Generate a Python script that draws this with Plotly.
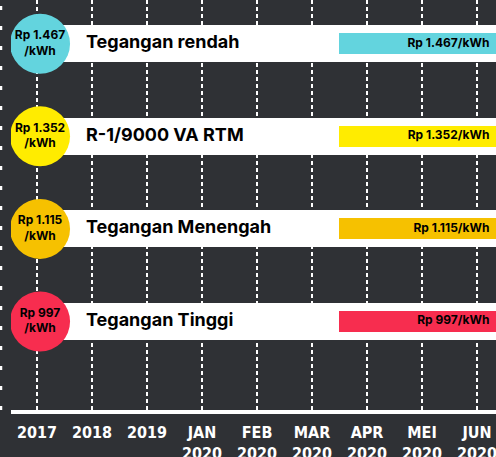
import plotly.graph_objs as go

# timeline ticks
periods = ['2017', '2018', '2019', 'JAN<br>2020', 'FEB<br>2020', 'MAR<br>2020',
           'APR<br>2020', 'MEI<br>2020', 'JUN<br>2020']

# tariffs
tariff_names = ['Tegangan rendah', 'R-1/9000 VA RTM', 'Tegangan Menengah', 'Tegangan Tinggi']
tariff_values = ['1.467', '1.352', '1.115', '997']
tariff_colors = ['#63d4de', '#ffec00', '#f6c100', '#f72d4f']

bg_color = '#2f3135'
dot_color = '#f42d4f'

# axis ranges, one x unit ~ 55px, one band ~ 93px
x_range = [-0.473, 8.345]
y_range = [3.957, -0.473]
box_start = 5.49

fig = go.Figure()

# white bands
fig.add_trace(go.Bar(y=tariff_names, x=[x_range[1]] * len(tariff_names), base=0,
                     orientation='h', width=0.4, marker=dict(color='white', line=dict(width=0)),
                     hoverinfo='skip'))

# coloured value boxes
fig.add_trace(go.Bar(y=tariff_names, x=[x_range[1] - box_start] * len(tariff_names), base=box_start,
                     orientation='h', width=0.226, marker=dict(color=tariff_colors, line=dict(width=0)),
                     hoverinfo='skip'))
fig.add_trace(go.Scatter(y=tariff_names, x=[x_range[1] - 0.12] * len(tariff_names), mode='text',
                         text=['Rp %s/kWh' % v for v in tariff_values], textposition='middle left',
                         textfont=dict(family='Inter', size=12, color='black', weight='bold'),
                         hoverinfo='skip'))

# band labels
fig.add_trace(go.Scatter(y=tariff_names, x=[0.89] * len(tariff_names), mode='text',
                         text=tariff_names, textposition='middle right',
                         textfont=dict(family='Inter', size=18, color='black', weight='bold'),
                         hoverinfo='skip'))

# circles
fig.add_trace(go.Scatter(y=tariff_names, x=[0.055] * len(tariff_names), mode='markers+text',
                         marker=dict(size=60, color=tariff_colors, line=dict(width=0)),
                         text=['Rp %s<br>/kWh' % v for v in tariff_values], textposition='middle center',
                         textfont=dict(family='Inter', size=12, color='black', weight='bold'),
                         hoverinfo='skip'))

# red dots on the timeline
fig.add_trace(go.Scatter(x=list(range(len(periods))), y=[y_range[0]] * len(periods), mode='markers',
                         marker=dict(size=9, color=dot_color), cliponaxis=False, hoverinfo='skip'))

# little dashes along the left edge
fig.add_shape(type='line', xref='paper', yref='paper', x0=-10 / 485, x1=-10 / 485, y0=0, y1=1,
              line=dict(color='white', width=2.5, dash='4px,16px'))

fig.update_layout(width=496, height=457, margin=dict(l=11, r=0, t=0, b=47),
                  paper_bgcolor=bg_color, plot_bgcolor=bg_color, showlegend=False,
                  barmode='overlay', bargap=0,
                  xaxis=dict(range=x_range, tickvals=list(range(len(periods))), ticktext=periods,
                             showgrid=True, gridcolor='white', gridwidth=2, griddash='4px,3px',
                             zeroline=False, showline=True, linecolor='white', linewidth=4,
                             ticks='', ticklabelstandoff=5, ticklabeloverflow='allow', automargin=False,
                             tickfont=dict(family='DejaVu Sans Condensed', size=16, color='white',
                                           weight='bold')),
                  yaxis=dict(range=y_range, type='category', categoryarray=tariff_names,
                             showgrid=False, zeroline=False, showticklabels=False, automargin=False))

# page has a default body margin, drop it so the chart sits at the window corner
fig.write_html("out.html", config={'displayModeBar': False},
               post_script="document.body.style.margin='0';document.body.style.overflow='hidden';")
